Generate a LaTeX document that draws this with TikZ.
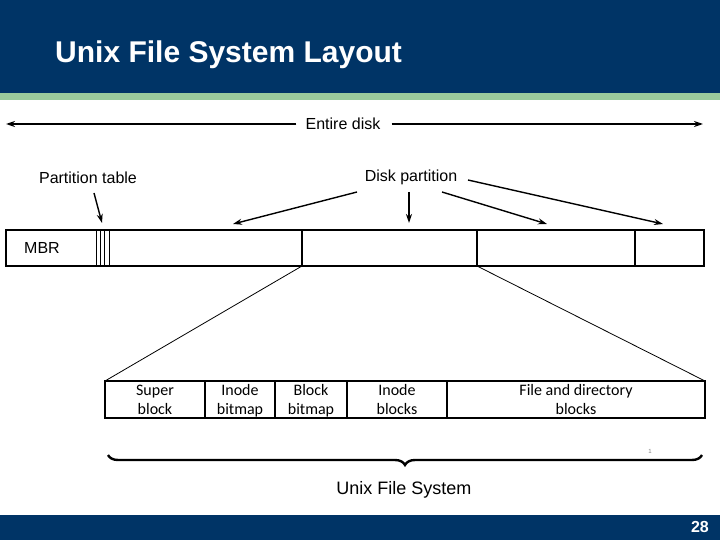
\documentclass[tikz,border=0pt]{standalone}
\usepackage{fontspec}
\setmainfont{Liberation Sans}
\newfontfamily\calib{Carlito}
\usetikzlibrary{arrows.meta,decorations.pathreplacing}
\definecolor{hdrblue}{HTML}{003466}
\definecolor{hdrgreen}{HTML}{9ACA9C}
\tikzset{
  lbl/.style={inner sep=1pt,font=\fontsize{16}{18}\selectfont},
  fslbl/.style={inner sep=0pt,align=center,anchor=north,font=\calib\fontsize{16}{19}\selectfont},
  ptr/.style={line width=1.4pt,-{Stealth[length=9pt,width=6pt]}},
  box/.style={line width=1.1pt},
}
\begin{document}
\begin{tikzpicture}[x=1pt,y=-1pt]
\useasboundingbox (0,0) rectangle (720,540);
% header and footer
\fill[hdrblue] (0,0) rectangle (720,93);
\fill[hdrgreen] (0,93) rectangle (720,100);
\fill[hdrblue] (0,515) rectangle (720,540);
\node[anchor=base west,inner sep=0pt,text=white,font=\bfseries\fontsize{30}{33}\selectfont] (title) at (55,63) {Unix File System Layout};
\node[anchor=base east,inner sep=0pt,text=white,font=\bfseries\fontsize{16}{18}\selectfont] (pagenum) at (709,532) {28};

% Entire disk
\node[lbl] (entire) at (343,124) {Entire disk};
\coordinate (edL) at (6,124);
\coordinate (edR) at (703,124);
\draw[ptr] ([xshift=-8pt]entire.west) -- (edL);
\draw[ptr] ([xshift=10pt]entire.east) -- (edR);

% disk bar
\draw[box] (6,230) rectangle (704,266);
\node[lbl,anchor=west] (mbr) at (23,248) {MBR};
\foreach \x in {96,100,104,109} \draw[line width=0.9pt] (\x,230) -- (\x,266);
\draw[box] (302,230) -- (302,266);
\draw[box] (477,230) -- (477,266);
\draw[box] (635,230) -- (635,266);
\coordinate (p2bl) at (302,266);
\coordinate (p2br) at (477,266);

% labels and pointers
\node[lbl] (ptable) at (88,178) {Partition table};
\coordinate (ptTip) at (102,223);
\draw[ptr] (94,193) -- (ptTip);

\node[lbl] (dpart) at (411,177) {Disk partition};
\coordinate (dp1) at (233,224);
\coordinate (dp2) at (409,223);
\coordinate (dp3) at (547,224);
\coordinate (dp4) at (663,224);
\draw[ptr] (357,192) -- (dp1);
\draw[ptr] (409,192) -- (dp2);
\draw[ptr] (442,192) -- (dp3);
\draw[ptr] (468,180) -- (dp4);

% file system bar
\draw[box] (105,381) rectangle (705,418);
\foreach \x in {205,275,347,447} \draw[box] (\x,381) -- (\x,418);
\coordinate (fsTL) at (105,381);
\coordinate (fsTR) at (705,381);
\draw[line width=0.8pt] (p2bl) -- (fsTL);
\draw[line width=0.8pt] (p2br) -- (fsTR);
\node[fslbl] (sb) at (155,382) {\strut Super\\\strut block};
\node[fslbl] (ib) at (240,382) {\strut Inode\\\strut bitmap};
\node[fslbl] (bb) at (311,382) {\strut Block\\\strut bitmap};
\node[fslbl] (inb) at (397,382) {\strut Inode\\\strut blocks};
\node[fslbl] (fdb) at (576,382) {\strut File and directory\\\strut blocks};

% brace
\draw[line width=2.4pt,decorate,decoration={brace,mirror,amplitude=10pt,aspect=0.5}] (108,455) -- (702,455);
\node[text=gray,font=\fontsize{6}{7}\selectfont] (one) at (650,451) {1};
\node[lbl,font=\fontsize{18}{20}\selectfont] (ufs) at (404,490) {Unix File System};
\end{tikzpicture}
\end{document}
